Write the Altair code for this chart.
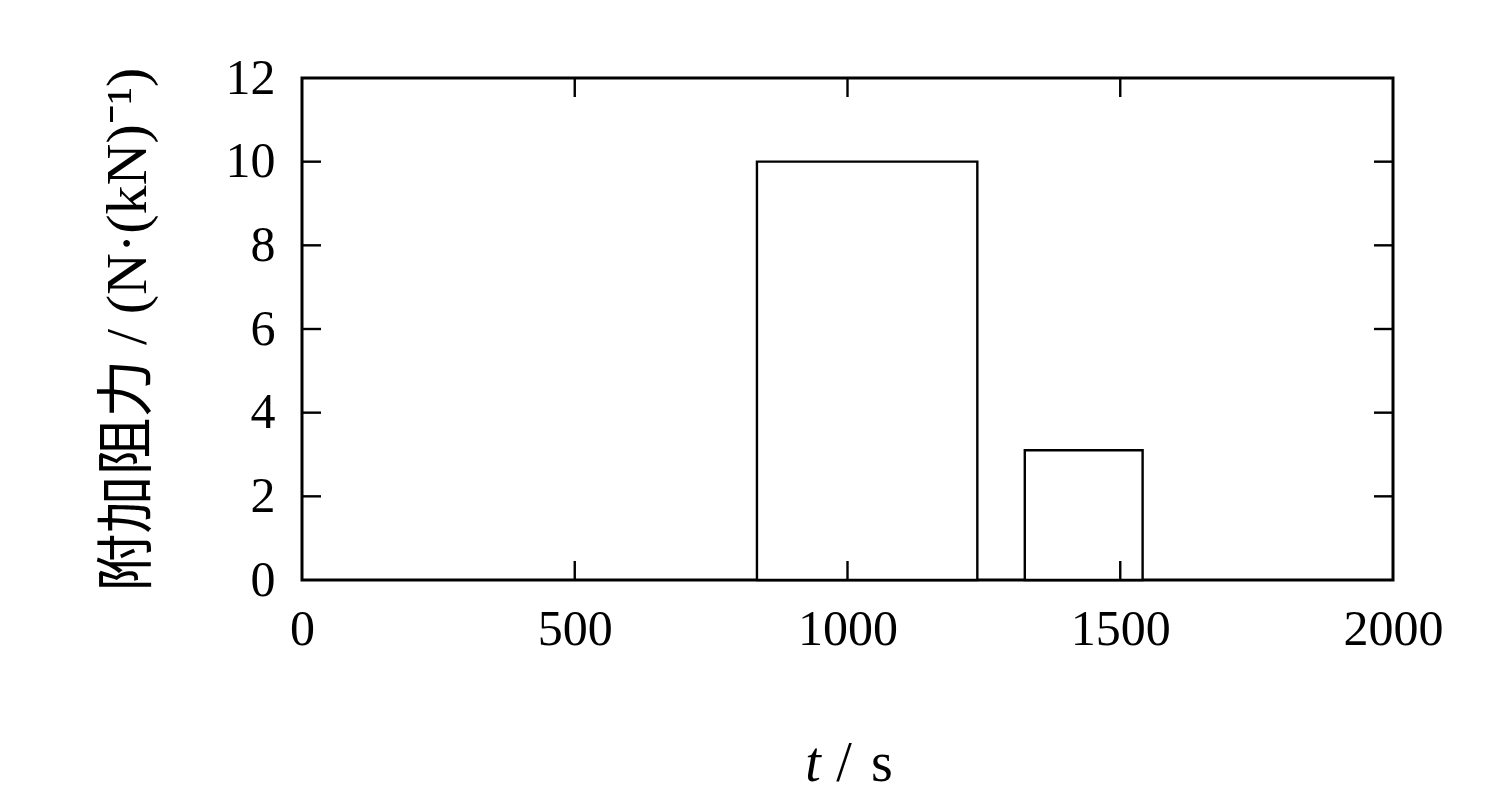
import altair as alt
import pandas as pd

# Data
bar_start = [834, 1325]
bar_end = [1238, 1541]
bar_value = [10.0, 3.1]

x_ticks = [500, 1000, 1500]
y_ticks = [2, 4, 6, 8, 10]
x_label_values = [0, 500, 1000, 1500, 2000]
y_label_values = [0, 2, 4, 6, 8, 10, 12]

W, H = 1091, 502
TICK = 19
SERIF = "Liberation Serif"
TITLE_FONT = "Liberation Serif, Noto Sans CJK SC"

bars = pd.DataFrame({"t0": bar_start, "t1": bar_end, "v": bar_value, "v0": [0.0] * len(bar_value)})
xt = pd.DataFrame({"t0": x_ticks})
yt = pd.DataFrame({"v": y_ticks})

xscale = alt.Scale(domain=[0, 2000], nice=False, zero=False)
yscale = alt.Scale(domain=[0, 12], nice=False, zero=False)

xaxis = alt.Axis(
    values=x_label_values, format="d", ticks=False, tickSize=0, domain=False, grid=False,
    labelFont=SERIF, labelFontSize=50, labelColor="black", labelPadding=24,
    labelFlush=False, labelOverlap=False, labelBound=False, title=None,
)
yaxis = alt.Axis(
    values=y_label_values, format="d", ticks=False, tickSize=0, domain=False, grid=False,
    labelFont=SERIF, labelFontSize=50, labelColor="black", labelPadding=27,
    labelFlush=False, labelOverlap=False, labelBound=False,
    title="附加阻力 / (N·(kN)⁻¹)", titleFont=TITLE_FONT, titleFontSize=58,
    titleFontWeight="normal", titleColor="black", titlePadding=68,
)

rects = alt.Chart(bars).mark_rect(fill="white", stroke="black", strokeWidth=2.4).encode(
    x=alt.X("t0:Q", scale=xscale, axis=xaxis),
    x2="t1:Q",
    y=alt.Y("v:Q", scale=yscale, axis=yaxis),
    y2="v0:Q",
)

rule_style = dict(color="black", strokeWidth=2.4)
xt_bottom = alt.Chart(xt).mark_rule(**rule_style).encode(
    x=alt.X("t0:Q", scale=xscale, axis=xaxis), y=alt.value(H), y2=alt.value(H - TICK)
)
xt_top = alt.Chart(xt).mark_rule(**rule_style).encode(
    x=alt.X("t0:Q", scale=xscale, axis=xaxis), y=alt.value(0), y2=alt.value(TICK)
)
yt_left = alt.Chart(yt).mark_rule(**rule_style).encode(
    y=alt.Y("v:Q", scale=yscale, axis=yaxis), x=alt.value(0), x2=alt.value(TICK)
)
yt_right = alt.Chart(yt).mark_rule(**rule_style).encode(
    y=alt.Y("v:Q", scale=yscale, axis=yaxis), x=alt.value(W), x2=alt.value(W - TICK)
)

title_df = pd.DataFrame({"a": [0]})
t_italic = alt.Chart(title_df).mark_text(
    text="t", font=SERIF, fontSize=56, fontStyle="italic", align="center",
    baseline="alphabetic", color="black",
).encode(x=alt.value(511), y=alt.value(703))
t_slash = alt.Chart(title_df).mark_text(
    text="/", font=SERIF, fontSize=56, align="center", baseline="alphabetic", color="black",
).encode(x=alt.value(542), y=alt.value(703))
t_unit = alt.Chart(title_df).mark_text(
    text="s", font=SERIF, fontSize=56, align="center", baseline="alphabetic", color="black",
).encode(x=alt.value(580), y=alt.value(703))

chart = alt.layer(
    rects, xt_bottom, xt_top, yt_left, yt_right, t_italic, t_slash, t_unit
).properties(
    width=W, height=H,
    autosize=alt.AutoSizeParams(type="none"),
    padding={"left": 294, "top": 70, "right": 80, "bottom": 215},
    background="white",
).configure_view(
    stroke="black", strokeWidth=3
)

chart.save("out.html", embed_options={"renderer": "svg", "actions": False})
